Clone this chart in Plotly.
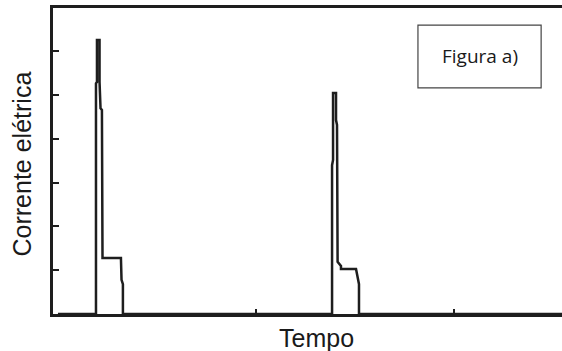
import plotly.graph_objects as go

# Series: current vs time (two pulses), values in axis units
tempo = [0.0,
         0.192, 0.192, 0.197, 0.197, 0.210, 0.210, 0.215, 0.222, 0.225, 0.318, 0.321, 0.328, 0.328,
         1.384, 1.384, 1.389, 1.389, 1.404, 1.404, 1.409, 1.412, 1.429, 1.429, 1.505, 1.510, 1.513, 1.520, 1.520,
         2.545]
corrente = [0.0,
            0.0, 5.27, 5.30, 6.26, 6.26, 5.30, 4.70, 4.66, 1.28, 1.28, 0.78, 0.68, 0.0,
            0.0, 3.40, 3.52, 5.05, 5.05, 4.43, 4.32, 1.19, 1.10, 1.03, 1.03, 0.89, 0.78, 0.68, 0.0,
            0.0]

x_ticks = [1, 2]
y_ticks = [1, 2, 3, 4, 5, 6]
x_label = "Tempo"
y_label = "Corrente elétrica"
box_label = "Figura a)"

ink = "#1e1e1e"

fig = go.Figure()
fig.add_trace(go.Scatter(x=tempo, y=corrente, mode="lines",
                         line=dict(color=ink, width=2.5), hoverinfo="skip",
                         showlegend=False))

fig.update_layout(
    width=562, height=351,
    margin=dict(l=53, r=0, t=8, b=37),
    paper_bgcolor="white", plot_bgcolor="white",
    xaxis=dict(range=[-0.025, 2.545], showgrid=False, zeroline=False,
               showline=True, linecolor=ink, linewidth=3, mirror=True,
               ticks="inside", ticklen=5, tickwidth=2, tickcolor=ink,
               tickvals=x_ticks, showticklabels=False),
    yaxis=dict(range=[0, 6.99], showgrid=False, zeroline=False,
               showline=True, linecolor=ink, linewidth=3, mirror=False,
               ticks="inside", ticklen=6, tickwidth=2, tickcolor=ink,
               tickvals=y_ticks, showticklabels=False),
    shapes=[dict(type="rect", xref="paper", yref="paper",
                 x0=0.717, x1=0.959, y0=0.739, y1=0.944,
                 line=dict(color="#444444", width=1.2), fillcolor="white")],
    annotations=[
        dict(text=box_label, xref="paper", yref="paper", x=0.838, y=0.842,
             xanchor="center", yanchor="middle", showarrow=False,
             font=dict(family="Open Sans", size=19, color="#1a1a1a")),
        dict(text=y_label, xref="paper", yref="paper", x=-0.060, y=0.49,
             xanchor="center", yanchor="middle", showarrow=False, textangle=-90,
             font=dict(family="Liberation Sans", size=25, color="#1a1a1a")),
        dict(text=x_label, xref="paper", yref="paper", x=0.517, y=-0.078,
             xanchor="center", yanchor="middle", showarrow=False,
             font=dict(family="Liberation Sans", size=25, color="#1a1a1a")),
    ],
)

fig.write_html("out.html")
